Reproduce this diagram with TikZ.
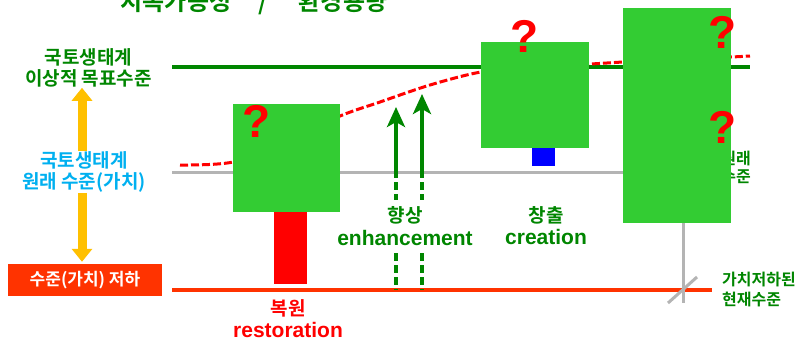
\documentclass[tikz,border=0pt]{standalone}
\usepackage{fontspec}
\newfontfamily\krb{Noto Sans CJK KR Bold}
\newfontfamily\lat{Liberation Sans}
\usetikzlibrary{arrows.meta}
\definecolor{boxgreen}{RGB}{51,204,51}
\definecolor{dkgreen}{RGB}{0,134,0}
\definecolor{lvlgray}{RGB}{180,180,180}
\definecolor{lowred}{RGB}{255,51,0}
\definecolor{arrorange}{RGB}{255,192,0}
\definecolor{cyantext}{RGB}{0,176,240}
\tikzset{
  gbox/.style={fill=boxgreen, inner sep=0pt, anchor=north west},
  qmark/.style={text=red, font=\lat\bfseries\fontsize{46}{46}\selectfont, inner sep=0pt},
  kolabel/.style={font=\krb\fontsize{19}{21.5}\selectfont, align=center, inner sep=0pt},
  smlabel/.style={font=\krb\fontsize{16}{20}\selectfont, inner sep=0pt},
  enlabel/.style={font=\lat\bfseries\fontsize{21}{24}\selectfont, inner sep=0pt},
  orarrow/.style={draw=arrorange, line width=9pt, -{Triangle[width=20pt,length=13pt]}},
  enharrow/.style={draw=dkgreen, line width=4pt, -{Stealth[width=18pt,length=20pt,inset=5pt]}},
  enhdash/.style={draw=dkgreen, line width=4pt, dash pattern=on 8pt off 4pt},
}
\begin{document}
\begin{tikzpicture}[x=1pt,y=-1pt]
\useasboundingbox (0,0) rectangle (805,341);
\fill[white] (0,0) rectangle (805,341);

% title (clipped at top)
\node[font=\krb\fontsize{24}{26}\selectfont, text=dkgreen, anchor=base, inner sep=0pt] (title1) at (176,10) {지속가능성};
\node[font=\krb\fontsize{24}{26}\selectfont, text=dkgreen, anchor=base, inner sep=0pt] (slash) at (263,10) {/};
\node[font=\krb\fontsize{24}{26}\selectfont, text=dkgreen, anchor=base, inner sep=0pt] (title2) at (343,10) {환경용량};

% level lines
\coordinate (gl1) at (172,67); \coordinate (gl2) at (750,67);
\draw[dkgreen, line width=4pt] (gl1) -- (gl2);
\coordinate (gr1) at (172,172); \coordinate (grc) at (683,172); \coordinate (grb) at (683,303);
\coordinate (rl1) at (172,290); \coordinate (rl2) at (712,290);
\draw[lowred, line width=3.5pt] (rl1) -- (rl2);
\draw[lvlgray, line width=3pt] (gr1) -- (grc) -- (grb);
\coordinate (sl1) at (668,303); \coordinate (sl2) at (697,277);
\draw[lvlgray, line width=3pt] (sl1) -- (sl2);

% red dashed trajectory
\draw[red, line width=3pt, dash pattern=on 8pt off 3pt] plot[smooth, tension=0.5] coordinates {(180,165) (233,162) (290,140) (340,116) (380,102) (430,85) (481,72) (540,66) (590,64) (623,62) (680,59) (731,57) (750,56)};

% enhancement arrows
\coordinate (e1s) at (396,170); \coordinate (e1t) at (396,107); \coordinate (e1d) at (396,200);
\coordinate (e1l) at (396,253); \coordinate (e1r) at (396,290);
\coordinate (e2s) at (422,170); \coordinate (e2t) at (422,94); \coordinate (e2d) at (422,200);
\coordinate (e2l) at (422,253); \coordinate (e2r) at (422,290);
\draw[enharrow] (e1s) -- (e1t);
\draw[enharrow] (e2s) -- (e2t);
\draw[enhdash] (e1s) -- (e1d);
\draw[enhdash] (e2s) -- (e2d);
\draw[enhdash] (e1l) -- (e1r);
\draw[enhdash] (e2l) -- (e2r);

% hidden label behind box 3
\node[smlabel, text=dkgreen, align=center, font=\krb\fontsize{16}{18}\selectfont] (origr) at (736,168) {원래\\수준};

% boxes and bars
\node[gbox, minimum width=107pt, minimum height=108pt] (box1) at (233,104) {};
\node[fill=red, inner sep=0pt, anchor=north west, minimum width=33pt, minimum height=72pt] (bar1) at (274,212) {};
\node[gbox, minimum width=108pt, minimum height=106pt] (box2) at (481,42) {};
\node[fill=blue, inner sep=0pt, anchor=north west, minimum width=23pt, minimum height=18pt] (bar2) at (532,148) {};
\node[gbox, minimum width=108pt, minimum height=215pt] (box3) at (623,8) {};

% question marks
\node[qmark] (q1) at (257,121) {?};
\node[qmark] (q2) at (525,36) {?};
\node[qmark] (q3) at (723,32) {?};
\node[qmark] (q4) at (723,127) {?};

% left labels
\node[kolabel, text=dkgreen] (ideal) at (88.5,68) {국토생태계\\이상적 목표수준};
\node[kolabel, text=cyantext] (orig) at (84,172) {국토생태계\\원래 수준(가치)};
\node[fill=lowred, text=white, font=\krb\fontsize{17}{20}\selectfont, inner sep=0pt, minimum width=154pt, minimum height=32pt] (low) at (85,280) {수준(가치) 저하};
\coordinate (ax) at (82,0);
\draw[orarrow] (orig.north -| ax) -- (ideal.south -| ax);
\draw[orarrow] (orig.south -| ax) -- ([yshift=2pt]low.north -| ax);

% bottom labels
\node[kolabel, text=red] (restko) at (288,308) {복원};
\node[enlabel, text=red] (resten) at (288,330) {restoration};
\node[kolabel, text=dkgreen] (enhko) at (405,215) {향상};
\node[enlabel, text=dkgreen] (enhen) at (405,238) {enhancement};
\node[kolabel, text=dkgreen] (creko) at (546,215) {창출};
\node[enlabel, text=dkgreen] (creen) at (546,237) {creation};
\node[smlabel, text=dkgreen, align=left, anchor=west] (curr) at (722,289) {가치저하된\\현재수준};
\end{tikzpicture}
\end{document}
